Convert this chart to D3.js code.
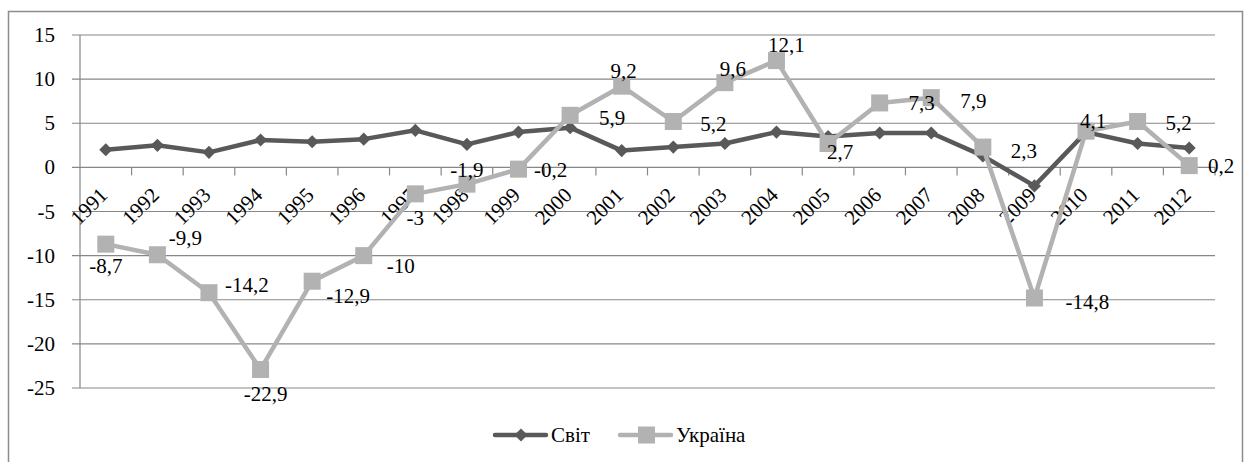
<!DOCTYPE html>
<html>
<head>
<meta charset="utf-8">
<script src="https://cdn.jsdelivr.net/npm/d3@7"></script>
</head>
<body style="margin:0">
<svg id="grafico" width="1244" height="462" style="font-family: 'Liberation Serif'"></svg>
<script>
// dados
var anos = ["1991", "1992", "1993", "1994", "1995", "1996", "1997", "1998", "1999", "2000", "2001",
    "2002", "2003", "2004", "2005", "2006", "2007", "2008", "2009", "2010", "2011", "2012"];
var svit = [2.0, 2.5, 1.7, 3.1, 2.9, 3.2, 4.2, 2.6, 4.0, 4.5, 1.9, 2.3, 2.7, 4.0, 3.5, 3.9, 3.9, 1.3, -2.1, 4.0, 2.7, 2.2];
var ukraina = [-8.7, -9.9, -14.2, -22.9, -12.9, -10, -3, -1.9, -0.2, 5.9, 9.2, 5.2, 9.6, 12.1, 2.7, 7.3, 7.9, 2.3, -14.8, 4.1, 5.2, 0.2];
var ticksY = [15, 10, 5, 0, -5, -10, -15, -20, -25];
var nomesSeries = ["Світ", "Україна"];

// posição das etiquetas em relação ao marcador (dx, dy)
var deslocEtiquetas = [[0, 22], [28, -17], [38, -8], [5, 25], [36, 15], [37, 10], [0, 24], [0, -14],
    [32, 1], [42, 3], [2, -15], [40, 3], [8, -14], [10, -16], [12, 8], [42, 0], [42, 3], [41, 4],
    [53, 4], [7, -10], [41, 2], [32, 0]];

var corSvit = "#595959", corUkr = "#b2b2b2", corGrade = "#878787";
var fonte = "21px";
var familia = "'Liberation Serif'";

var svg = d3.select("#grafico");

// moldura
svg.append("rect")
    .attr("x", 8.5).attr("y", 11.5)
    .attr("width", 1234).attr("height", 480)
    .attr("fill", "none")
    .attr("stroke", "#8c8c8c")
    .attr("stroke-width", 1.5);

var x = d3.scaleBand().domain(anos).range([80, 1215]);
var y = d3.scaleLinear().domain([-25, 15]).range([388, 35]);
var cx = d => x(d) + x.bandwidth() / 2;

// grade
svg.selectAll(".grade")
    .data(ticksY)
    .enter().append("line")
    .attr("x1", 72).attr("x2", 1215)
    .attr("y1", d => y(d)).attr("y2", d => y(d))
    .attr("stroke", corGrade).attr("stroke-width", 1.2);

svg.selectAll(".rotulo-y")
    .data(ticksY)
    .enter().append("text")
    .attr("x", 55)
    .attr("y", d => y(d) + 7)
    .attr("text-anchor", "end")
    .style("font-size", fonte)
    .style("font-family", familia)
    .text(d => d < 0 ? "-" + Math.abs(d) : d);

svg.append("line")
    .attr("x1", 80).attr("x2", 80).attr("y1", 35).attr("y2", 388)
    .attr("stroke", corGrade).attr("stroke-width", 1.2);

// marcas do eixo x na linha do zero
svg.selectAll(".marca")
    .data(anos)
    .enter().append("line")
    .attr("x1", d => x(d) + x.step())
    .attr("x2", d => x(d) + x.step())
    .attr("y1", y(0)).attr("y2", y(0) + 8)
    .attr("stroke", corGrade).attr("stroke-width", 1.2);

svg.selectAll(".rotulo-ano")
    .data(anos)
    .enter().append("text")
    .attr("transform", d => "translate(" + (cx(d) + 3) + "," + (y(0) + 29) + ") rotate(-45)")
    .attr("text-anchor", "end")
    .style("font-size", fonte)
    .style("font-family", familia)
    .text(d => d);

// linhas
var linha = d3.line().x((d, i) => cx(anos[i])).y(d => y(d));

svg.append("path")
    .datum(svit)
    .attr("d", linha)
    .attr("fill", "none")
    .attr("stroke", corSvit)
    .attr("stroke-width", 4.5)
    .attr("stroke-linejoin", "round");

var losango = d3.symbol().type(d3.symbolDiamond2).size(110);
svg.selectAll(".m-svit")
    .data(svit)
    .enter().append("path")
    .attr("d", losango)
    .attr("transform", (d, i) => "translate(" + cx(anos[i]) + "," + y(d) + ")")
    .attr("fill", corSvit);

svg.append("path")
    .datum(ukraina)
    .attr("d", linha)
    .attr("fill", "none")
    .attr("stroke", corUkr)
    .attr("stroke-width", 4.5)
    .attr("stroke-linejoin", "round");

svg.selectAll(".m-ukr")
    .data(ukraina)
    .enter().append("rect")
    .attr("x", (d, i) => cx(anos[i]) - 8.5)
    .attr("y", d => y(d) - 8.5)
    .attr("width", 17).attr("height", 17)
    .attr("fill", corUkr);

// etiquetas de dados
svg.selectAll(".etiqueta")
    .data(ukraina)
    .enter().append("text")
    .attr("x", (d, i) => cx(anos[i]) + deslocEtiquetas[i][0])
    .attr("y", (d, i) => y(d) + deslocEtiquetas[i][1] + 7)
    .attr("text-anchor", "middle")
    .style("font-size", fonte)
    .style("font-family", familia)
    .text(d => String(d).replace(".", ","));

// legenda
var legenda = svg.append("g").attr("transform", "translate(0,435)");
var itens = [
    { nome: nomesSeries[0], cor: corSvit, x: 495, tipo: "losango" },
    { nome: nomesSeries[1], cor: corUkr, x: 620, tipo: "quadrado" }
];
itens.forEach(function (it) {
    legenda.append("line")
        .attr("x1", it.x).attr("x2", it.x + 51)
        .attr("stroke", it.cor).attr("stroke-width", 4.5).attr("stroke-linecap", "round");
    if (it.tipo === "losango") {
        legenda.append("path")
            .attr("d", losango)
            .attr("transform", "translate(" + (it.x + 26) + ",0)")
            .attr("fill", it.cor);
    } else {
        legenda.append("rect")
            .attr("x", it.x + 18).attr("y", -8.5)
            .attr("width", 17).attr("height", 17)
            .attr("fill", it.cor);
    }
    legenda.append("text")
        .attr("x", it.x + 56)
        .attr("y", 7)
        .style("font-size", fonte)
        .style("font-family", familia)
        .text(it.nome);
});
</script>
</body>
</html>
